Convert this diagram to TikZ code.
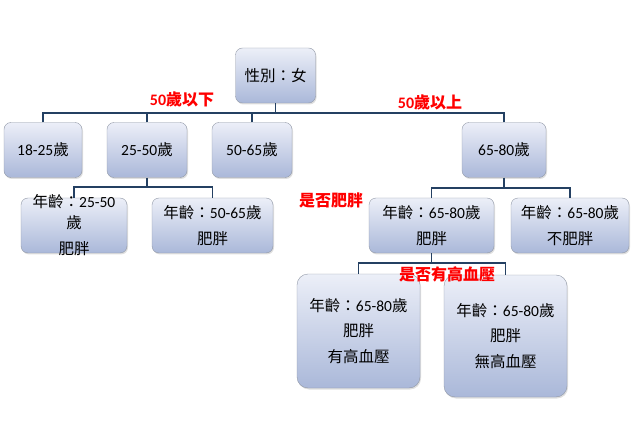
\documentclass[tikz,border=0pt]{standalone}
\usepackage{fontspec}
\setmainfont{Carlito}
\newfontfamily\cjk{Noto Sans CJK TC}
\usetikzlibrary{shadows}
\definecolor{linknavy}{RGB}{36,64,98}
\definecolor{boxtop}{RGB}{236,239,248}
\definecolor{boxbottom}{RGB}{170,184,217}
\definecolor{boxedge}{RGB}{145,152,166}
\definecolor{labelred}{RGB}{255,0,0}
\newcommand{\zh}[1]{{\cjk #1}}
\tikzset{
  agebox/.style={draw=boxedge,rounded corners=7pt,top color=boxtop,bottom color=boxbottom,
    drop shadow={opacity=0.25,shadow xshift=1pt,shadow yshift=-1.5pt},
    align=center,inner sep=2pt,font=\fontsize{15.5}{25.5}\selectfont},
  boxtext/.style={align=center,inner sep=0pt,font=\fontsize{15.5}{25.5}\selectfont},
  link/.style={draw=linknavy,line width=1.8pt},
  splitlabel/.style={text=labelred,font=\fontsize{16}{18}\selectfont\bfseries}
}

\begin{document}
\begin{tikzpicture}[x=1pt,y=-1pt]
  \useasboundingbox (0,0) rectangle (634,430);
  % Root
  \node[agebox,minimum width=80pt,minimum height=55pt] (root) at (275.5,75.5) {\zh{性別：女}};
  % Age groups
  \node[agebox,minimum width=78pt,minimum height=55pt] (a1) at (43,150) {18-25\zh{歲}};
  \node[agebox,minimum width=80pt,minimum height=55pt] (a2) at (147,150) {25-50\zh{歲}};
  \node[agebox,minimum width=80pt,minimum height=55pt] (a3) at (252,150) {50-65\zh{歲}};
  \node[agebox,minimum width=84pt,minimum height=55pt] (a4) at (504,150) {65-80\zh{歲}};
  % Obesity
  \node[agebox,minimum width=106pt,minimum height=55pt] (b1) at (74,225.5) {};
  \node[agebox,minimum width=121pt,minimum height=55pt] (b2) at (212.5,225.5)
    {\zh{年齡：}50-65\zh{歲}\\\zh{肥胖}};
  \node[agebox,minimum width=125pt,minimum height=55pt] (c1) at (431.5,225.5)
    {\zh{年齡：}65-80\zh{歲}\\\zh{肥胖}};
  \node[agebox,minimum width=118pt,minimum height=55pt] (c2) at (570,225.5)
    {\zh{年齡：}65-80\zh{歲}\\\zh{不肥胖}};
  % Blood pressure
  \node[agebox,rounded corners=11pt,minimum width=123pt,minimum height=114pt] (d1) at (358.5,331)
    {\zh{年齡：}65-80\zh{歲}\\\zh{肥胖}\\\zh{有高血壓}};
  \node[agebox,rounded corners=11pt,minimum width=123pt,minimum height=122pt] (d2) at (505.5,336)
    {\zh{年齡：}65-80\zh{歲}\\\zh{肥胖}\\\zh{無高血壓}};
  % Connectors
  \coordinate (bar1) at (275.5,113);
  \draw[link] (root.south) -- (bar1);
  \foreach \n in {a1,a2,a3,a4}
    \draw[link] (\n.north) |- (bar1);
  \coordinate (bar2) at (147,187);
  \draw[link] (a2.south) -- (bar2);
  \foreach \n in {b1,b2}
    \draw[link] (\n.north) |- (bar2);
  \coordinate (bar3) at (504,188);
  \draw[link] (a4.south) -- (bar3);
  \foreach \n in {c1,c2}
    \draw[link] (\n.north) |- (bar3);
  \coordinate (bar4) at (431.5,263);
  \draw[link] (c1.south) -- (bar4);
  \foreach \n in {d1,d2}
    \draw[link] (\n.north) |- (bar4);
  % Overflowing text of b1
  \node[boxtext] (b1text) at (74,225)
    {\zh{年齡：}25-50\\[-4pt]\zh{歲}\\\zh{肥胖}};
  % Split labels
  \node[splitlabel] (lbelow) at (182,99) {50\zh{歲以下}};
  \node[splitlabel] (labove) at (430,102) {50\zh{歲以上}};
  \node[splitlabel] (lfat) at (331,200) {\zh{是否肥胖}};
  \node[splitlabel] (lbp) at (447,274) {\zh{是否有高血壓}};
\end{tikzpicture}
\end{document}
